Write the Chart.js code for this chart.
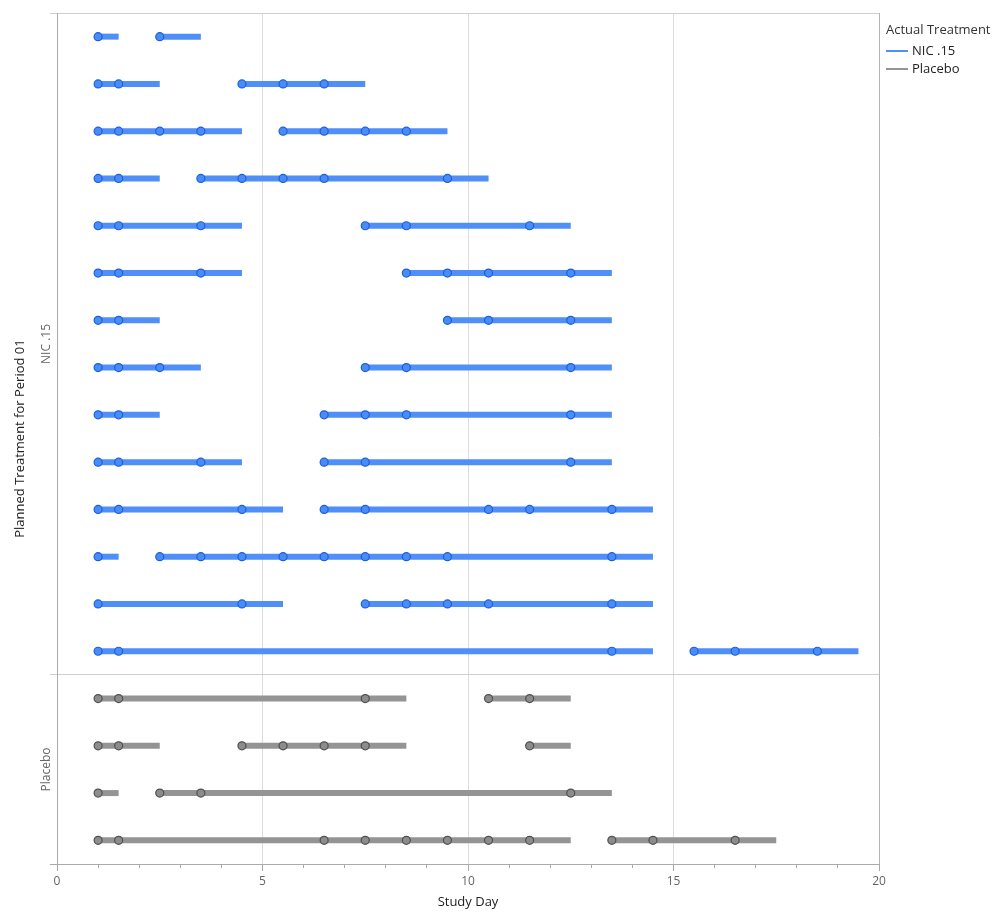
<!DOCTYPE html>
<html>
<head>
<meta charset="utf-8">
<title>Study Day by Planned Treatment</title>
<script src="https://cdn.jsdelivr.net/npm/chart.js@4.4.1/dist/chart.umd.min.js"></script>
<style>
  html, body { margin: 0; padding: 0; background: #fff; }
  #wrap { width: 999px; height: 917px; }
</style>
</head>
<body>
<div id="wrap"><canvas id="chart"></canvas></div>
<script>
const FONT = "'Open Sans', 'Noto Sans', sans-serif";

const groupNames = ["NIC .15", "Placebo"];
const xTicks = [0, 5, 10, 15, 20];

// one entry per subject row, top to bottom: [start, end] of each dosing stretch
const nicSegments = [
  [[1, 1.5], [2.5, 3.5]],
  [[1, 2.5], [4.5, 7.5]],
  [[1, 4.5], [5.5, 9.5]],
  [[1, 2.5], [3.5, 10.5]],
  [[1, 4.5], [7.5, 12.5]],
  [[1, 4.5], [8.5, 13.5]],
  [[1, 2.5], [9.5, 13.5]],
  [[1, 3.5], [7.5, 13.5]],
  [[1, 2.5], [6.5, 13.5]],
  [[1, 4.5], [6.5, 13.5]],
  [[1, 5.5], [6.5, 14.5]],
  [[1, 1.5], [2.5, 14.5]],
  [[1, 5.5], [7.5, 14.5]],
  [[1, 14.5], [15.5, 19.5]],
];

// study days with a recorded visit (circles)
const nicVisits = [
  [1, 2.5],
  [1, 1.5, 4.5, 5.5, 6.5],
  [1, 1.5, 2.5, 3.5, 5.5, 6.5, 7.5, 8.5],
  [1, 1.5, 3.5, 4.5, 5.5, 6.5, 9.5],
  [1, 1.5, 3.5, 7.5, 8.5, 11.5],
  [1, 1.5, 3.5, 8.5, 9.5, 10.5, 12.5],
  [1, 1.5, 9.5, 10.5, 12.5],
  [1, 1.5, 2.5, 7.5, 8.5, 12.5],
  [1, 1.5, 6.5, 7.5, 8.5, 12.5],
  [1, 1.5, 3.5, 6.5, 7.5, 12.5],
  [1, 1.5, 4.5, 6.5, 7.5, 10.5, 11.5, 13.5],
  [1, 2.5, 3.5, 4.5, 5.5, 6.5, 7.5, 8.5, 9.5, 13.5],
  [1, 4.5, 7.5, 8.5, 9.5, 10.5, 13.5],
  [1, 1.5, 13.5, 15.5, 16.5, 18.5],
];

const placeboSegments = [
  [[1, 8.5], [10.5, 12.5]],
  [[1, 2.5], [4.5, 8.5], [11.5, 12.5]],
  [[1, 1.5], [2.5, 13.5]],
  [[1, 12.5], [13.5, 17.5]],
];

const placeboVisits = [
  [1, 1.5, 7.5, 10.5, 11.5],
  [1, 1.5, 4.5, 5.5, 6.5, 7.5, 11.5],
  [1, 2.5, 3.5, 12.5],
  [1, 1.5, 6.5, 7.5, 8.5, 9.5, 10.5, 11.5, 13.5, 14.5, 16.5],
];

const colors = {
  nic: { line: "#4f8ff7", fill: "#4a8cf5", edge: "#1a5fe0" },
  placebo: { line: "#949494", fill: "#8c8c8c", edge: "#505050" },
};

const groups = [
  { key: "nic", segments: nicSegments, visits: nicVisits },
  { key: "placebo", segments: placeboSegments, visits: placeboVisits },
];

const totalRows = nicSegments.length + placeboSegments.length;

function buildDatasets() {
  const datasets = [];
  let rowOffset = 0;
  groups.forEach((group) => {
    const c = colors[group.key];
    const markers = [];
    group.segments.forEach((row, i) => {
      const y = rowOffset + i + 0.5;
      row.forEach(([start, end]) => {
        datasets.push({
          data: [{ x: start, y }, { x: end, y }],
          showLine: true,
          borderColor: c.line,
          borderWidth: 6,
          borderCapStyle: "butt",
          pointRadius: 0,
          order: 1,
        });
      });
      group.visits[i].forEach((day) => markers.push({ x: day, y }));
    });
    datasets.push({
      data: markers,
      pointRadius: 4,
      pointBorderWidth: 1.2,
      pointBackgroundColor: c.fill,
      pointBorderColor: c.edge,
      order: 0,
    });
    rowOffset += group.segments.length;
  });
  return datasets;
}

const decorPlugin = {
  id: "decor",
  afterDraw(chart) {
    const { ctx, scales: { y } } = chart;
    ctx.save();

    // group names on the y axis
    ctx.font = `12px ${FONT}`;
    ctx.fillStyle = "#666";
    ctx.textAlign = "center";
    ctx.textBaseline = "middle";
    let start = 0;
    groups.forEach((group, i) => {
      const mid = y.getPixelForValue(start + group.segments.length / 2);
      ctx.save();
      ctx.translate(47, mid);
      ctx.rotate(-Math.PI / 2);
      ctx.fillText(groupNames[i], 0, 0);
      ctx.restore();
      start += group.segments.length;
    });

    // legend
    ctx.textAlign = "left";
    ctx.fillStyle = "#333";
    ctx.font = `13px ${FONT}`;
    ctx.fillText("Actual Treatment", 886, 30);
    groups.forEach((group, i) => {
      const ly = 51 + i * 18;
      ctx.strokeStyle = colors[group.key].line;
      ctx.lineWidth = 2;
      ctx.beginPath();
      ctx.moveTo(886, ly);
      ctx.lineTo(908, ly);
      ctx.stroke();
      ctx.fillStyle = "#222";
      ctx.fillText(groupNames[i], 912, ly);
    });
    ctx.restore();
  },
};

new Chart(document.getElementById("chart"), {
  type: "scatter",
  data: { datasets: buildDatasets() },
  options: {
    responsive: true,
    maintainAspectRatio: false,
    animation: false,
    devicePixelRatio: 1,
    layout: { padding: { top: 13, right: 120, bottom: 0, left: 0 } },
    plugins: {
      legend: { display: false },
      tooltip: { enabled: false },
    },
    scales: {
      x: {
        type: "linear",
        position: "bottom",
        weight: 1,
        min: 0,
        max: 20,
        afterBuildTicks: (scale) => {
          scale.ticks = xTicks.map((v) => ({ value: v }));
        },
        ticks: { color: "#666", font: { family: FONT, size: 12 }, padding: 3 },
        grid: {
          color: (c) => (c.tick.value === 0 ? "rgba(0,0,0,0)" : c.tick.value === 20 ? "#b4b4b4" : "#dcdcdc"),
          tickColor: "#aaa",
          tickLength: 7,
        },
        border: { color: "#aaa" },
        title: {
          display: true,
          text: "Study Day",
          color: "#222",
          font: { family: FONT, size: 13 },
          padding: { top: 0, bottom: 7 },
        },
        afterFit: (scale) => {
          scale.height = 53;
        },
      },
      xMinor: {
        type: "linear",
        axis: "x",
        position: "bottom",
        weight: 0,
        min: 0,
        max: 20,
        ticks: { display: false, stepSize: 1 },
        grid: { drawOnChartArea: false, color: "#aaa", tickLength: 4 },
        border: { display: false },
        afterFit: (scale) => {
          scale.height = 0;
        },
      },
      y: {
        type: "linear",
        min: 0,
        max: totalRows,
        reverse: true,
        afterBuildTicks: (scale) => {
          scale.ticks = [0, nicSegments.length, totalRows].map((v) => ({ value: v }));
        },
        ticks: { display: false },
        grid: {
          color: (c) => (c.tick.value === totalRows ? "#aaa" : "#cfcfcf"),
          tickLength: 7,
        },
        border: { color: "#aaa" },
        title: {
          display: true,
          text: "Planned Treatment for Period 01",
          color: "#222",
          font: { family: FONT, size: 13 },
          padding: { top: 12, bottom: 0 },
        },
        afterFit: (scale) => {
          scale.width = 57;
        },
      },
    },
  },
  plugins: [decorPlugin],
});
</script>
</body>
</html>
